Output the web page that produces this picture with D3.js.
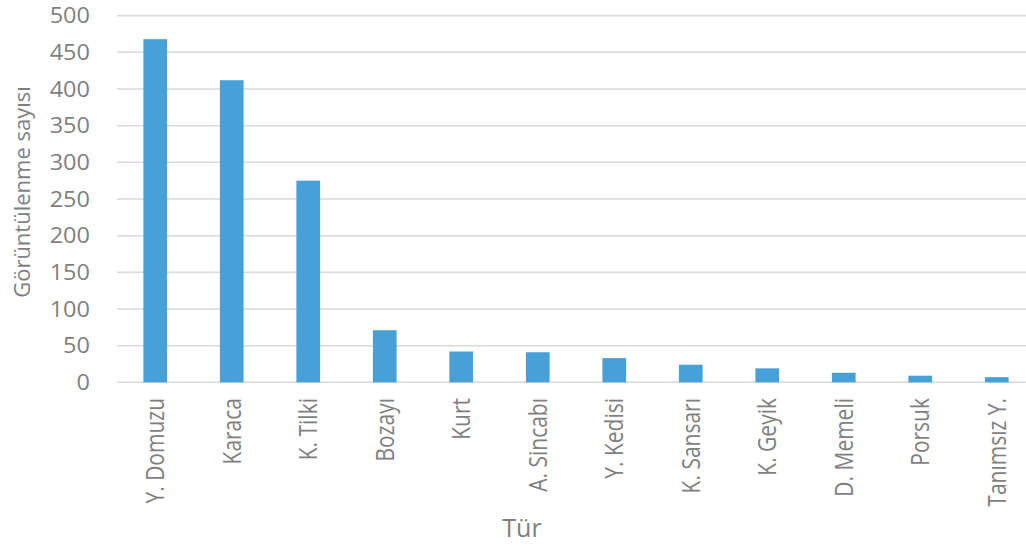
<!DOCTYPE html>
<html lang="tr">
<head>
    <meta charset="UTF-8">
    <title>Görüntülenme sayısı</title>
    <script src="https://d3js.org/d3.v7.min.js"></script>
    <style>
        body { margin: 0; background: #fff; }
        text { font-family: "Open Sans", sans-serif; fill: #7f7f7f; }
    </style>
</head>
<body>
    <svg id="chart" width="1026" height="547"></svg>
    <script>
        // data
        const species = ["Y. Domuzu", "Karaca", "K. Tilki", "Bozayı", "Kurt", "A. Sincabı",
            "Y. Kedisi", "K. Sansarı", "K. Geyik", "D. Memeli", "Porsuk", "Tanımsız Y."];
        const counts = [468, 412, 275, 71, 42, 41, 33, 24, 19, 13, 9, 7];
        const yTicks = [0, 50, 100, 150, 200, 250, 300, 350, 400, 450, 500];

        const data = species.map((s, i) => ({ name: s, value: counts[i] }));
        const svg = d3.select("#chart");

        let x = d3.scaleBand()
            .domain(species)
            .range([117, 1035])
            .paddingInner(0.69)
            .paddingOuter(0.345);

        let y = d3.scaleLinear()
            .domain([0, 500])
            .range([382.3, 15.7]);

        // gridlines
        svg.append("g")
            .selectAll("line")
            .data(yTicks)
            .enter().append("line")
            .attr("x1", 117)
            .attr("x2", 1026)
            .attr("y1", d => y(d))
            .attr("y2", d => y(d))
            .attr("stroke", "#d9d9d9")
            .attr("stroke-width", 1.5);

        // y tick labels
        svg.append("g")
            .selectAll("text")
            .data(yTicks)
            .enter().append("text")
            .attr("transform", d => `translate(90,${y(d)}) scale(1.12,1)`)
            .attr("text-anchor", "end")
            .attr("dy", "0.36em")
            .attr("font-size", "21px")
            .text(d => d);

        // bars
        svg.append("g")
            .selectAll("rect")
            .data(data)
            .enter().append("rect")
            .attr("x", d => x(d.name))
            .attr("y", d => y(d.value))
            .attr("width", x.bandwidth())
            .attr("height", d => y(0) - y(d.value))
            .attr("fill", "#47a0d7");

        // category labels
        svg.append("g")
            .selectAll("text")
            .data(species)
            .enter().append("text")
            .attr("transform", d => `translate(${x(d) + x.bandwidth() / 2},398) scale(1.18,1) rotate(-90)`)
            .attr("text-anchor", "end")
            .attr("dy", "0.36em")
            .attr("font-size", "21px")
            .text(d => d);

        // axis titles
        svg.append("text")
            .attr("x", 522)
            .attr("y", 537)
            .attr("text-anchor", "middle")
            .attr("font-size", "25px")
            .text("Tür");

        svg.append("text")
            .attr("transform", "translate(30,192) rotate(-90)")
            .attr("text-anchor", "middle")
            .attr("font-size", "22px")
            .text("Görüntülenme sayısı");
    </script>
</body>
</html>
